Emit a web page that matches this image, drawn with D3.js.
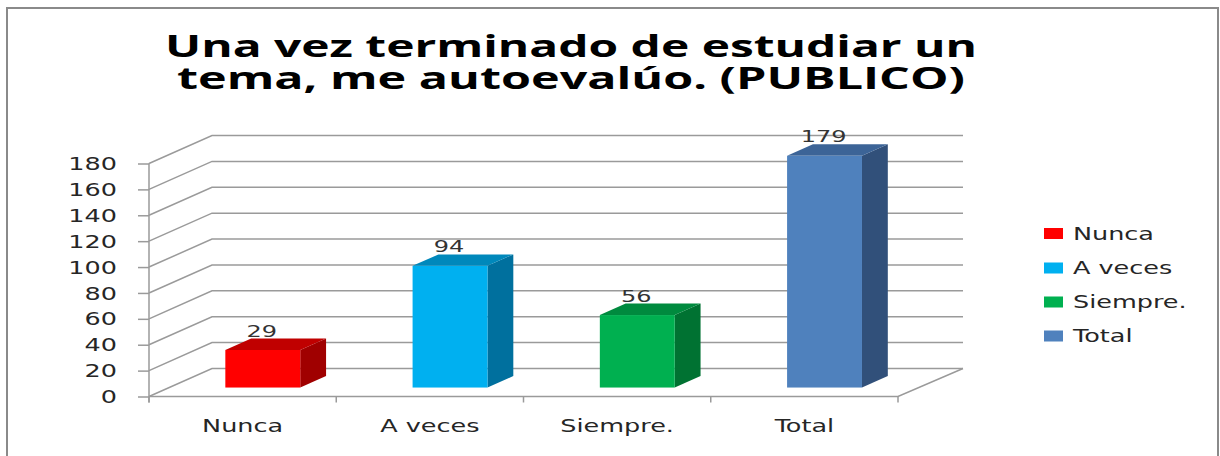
<!DOCTYPE html>
<html>
<head>
<meta charset="utf-8">
<script src="https://cdn.jsdelivr.net/npm/d3@7"></script>
<style>
  html, body { margin: 0; padding: 0; background: #fff; }
  svg { display: block; }
</style>
</head>
<body>
<div id="chart"></div>
<script>
// ---- data ----
const titleLines = ['Una vez terminado de estudiar un', 'tema, me autoevalúo. (PUBLICO)'];
const categories = ['Nunca', 'A veces', 'Siempre.', 'Total'];
const values = [29, 94, 56, 179];
const yTicks = [0, 20, 40, 60, 80, 100, 120, 140, 160, 180];
const frontColors = ['#ff0000', '#00b0f0', '#00b050', '#4f81bd'];
const topColors = ['#c00000', '#0088bb', '#008a3e', '#3c6497'];
const sideColors = ['#a00000', '#00709e', '#007232', '#31507a'];

const W = 1220, H = 456;
const SX = 1.5;          // the source picture is stretched sideways
const FONT = '"DejaVu Sans", Verdana, sans-serif';
const GRID = '#9a9a9a';

// 3d depth of the plot box and of the bars inside it
const DX = 63, DY = -28;
const f0 = 0.32, f1 = 0.73;

const svg = d3.select('#chart').append('svg')
  .attr('width', W).attr('height', H);

// outer frame (bottom edge runs off the picture)
svg.append('rect')
  .attr('x', 7).attr('y', 8)
  .attr('width', 1211).attr('height', 460)
  .attr('fill', '#fff')
  .attr('stroke', '#8a8a8a').attr('stroke-width', 2);

// title
const titleY = [57, 89];
const titleW = [812, 788];
titleLines.forEach((t, i) => {
  svg.append('text')
    .attr('x', 571).attr('y', titleY[i])
    .attr('text-anchor', 'middle')
    .attr('font-family', '"Open Sans", sans-serif')
    .attr('font-weight', 700)
    .attr('font-size', '31px')
    .attr('fill', '#000')
    .attr('textLength', titleW[i])
    .attr('lengthAdjust', 'spacingAndGlyphs')
    .text(t);
});

// scales
const x0 = 149, x1 = 898;
const y = d3.scaleLinear().domain([0, 180]).range([396.5, 163.5]);
const xCat = d3.scaleBand().domain(categories).range([x0, x1]);
const xBar = d3.scaleBand().domain(categories).range([x0, x1])
  .paddingInner(0.6).paddingOuter(0.3);

const g = svg.append('g');

// back wall + left wall gridlines
yTicks.forEach(t => {
  const yy = y(t);
  g.append('polyline')
    .attr('points', `${x0},${yy} ${x0 + DX},${yy + DY} ${x1 + DX + 2},${yy + DY}`)
    .attr('fill', 'none')
    .attr('stroke', GRID).attr('stroke-width', 1.5);
});

// floor front edge + right edge
g.append('polyline')
  .attr('points', `${x0},${y(0)} ${x1},${y(0)} ${x1 + DX + 2},${y(0) + DY}`)
  .attr('fill', 'none')
  .attr('stroke', GRID).attr('stroke-width', 1.5);

// y axis
const yAxis = g.append('g')
  .attr('transform', `translate(${x0},0)`)
  .call(d3.axisLeft(y).tickValues(yTicks).tickSize(11).tickSizeOuter(0));
yAxis.select('.domain').remove();
yAxis.selectAll('line').attr('stroke', GRID).attr('stroke-width', 1.5);
yAxis.selectAll('text')
  .attr('x', -32 / SX)
  .attr('dy', '0.36em')
  .attr('transform', `scale(${SX},1)`)
  .attr('font-family', FONT)
  .attr('font-size', '17px')
  .attr('fill', '#262626');
g.append('line')
  .attr('x1', x0).attr('x2', x0)
  .attr('y1', y(180)).attr('y2', y(0) + 6)
  .attr('stroke', GRID).attr('stroke-width', 1.5);

// category ticks under the floor
xCat.domain().concat([null]).forEach(c => {
  const xx = c === null ? x1 : xCat(c);
  g.append('line')
    .attr('x1', xx).attr('x2', xx)
    .attr('y1', y(0)).attr('y2', y(0) + 6)
    .attr('stroke', GRID).attr('stroke-width', 1.5);
});

// category labels
categories.forEach(c => {
  g.append('g')
    .attr('transform', `translate(${xCat(c) + xCat.bandwidth() / 2},432) scale(${SX},1)`)
    .append('text')
    .attr('text-anchor', 'middle')
    .attr('font-family', FONT)
    .attr('font-size', '17px')
    .attr('fill', '#262626')
    .text(c);
});

// bars (front, top and side faces)
const bw = xBar.bandwidth();
const ddx = (f1 - f0) * DX, ddy = (f1 - f0) * DY;
categories.forEach((c, i) => {
  const v = values[i];
  const bx = xBar(c) + f0 * DX;
  const yt = y(v) + f0 * DY;
  const yb = y(0) + f0 * DY;
  const bar = g.append('g');

  bar.append('polygon')
    .attr('points', `${bx + bw},${yt} ${bx + bw + ddx},${yt + ddy} ${bx + bw + ddx},${yb + ddy} ${bx + bw},${yb}`)
    .attr('fill', sideColors[i]);
  bar.append('polygon')
    .attr('points', `${bx},${yt} ${bx + bw},${yt} ${bx + bw + ddx},${yt + ddy} ${bx + ddx},${yt + ddy}`)
    .attr('fill', topColors[i]);
  bar.append('rect')
    .attr('x', bx).attr('y', yt)
    .attr('width', bw).attr('height', yb - yt)
    .attr('fill', frontColors[i]);

  // value label
  g.append('g')
    .attr('transform', `translate(${bx + bw / 2 - 1},${yt + ddy - 2}) scale(${SX},1)`)
    .append('text')
    .attr('text-anchor', 'middle')
    .attr('font-family', FONT)
    .attr('font-size', '16px')
    .attr('fill', '#333')
    .text(v);
});

// legend
const legendY = [233.5, 268, 302, 336];
categories.forEach((c, i) => {
  const lg = svg.append('g').attr('transform', `translate(1044,${legendY[i]})`);
  lg.append('rect')
    .attr('x', 0).attr('y', -5.5)
    .attr('width', 19).attr('height', 11)
    .attr('fill', frontColors[i]);
  lg.append('g')
    .attr('transform', `translate(29,6.2) scale(${SX},1)`)
    .append('text')
    .attr('font-family', FONT)
    .attr('font-size', '17px')
    .attr('fill', '#262626')
    .text(c);
});
</script>
</body>
</html>
